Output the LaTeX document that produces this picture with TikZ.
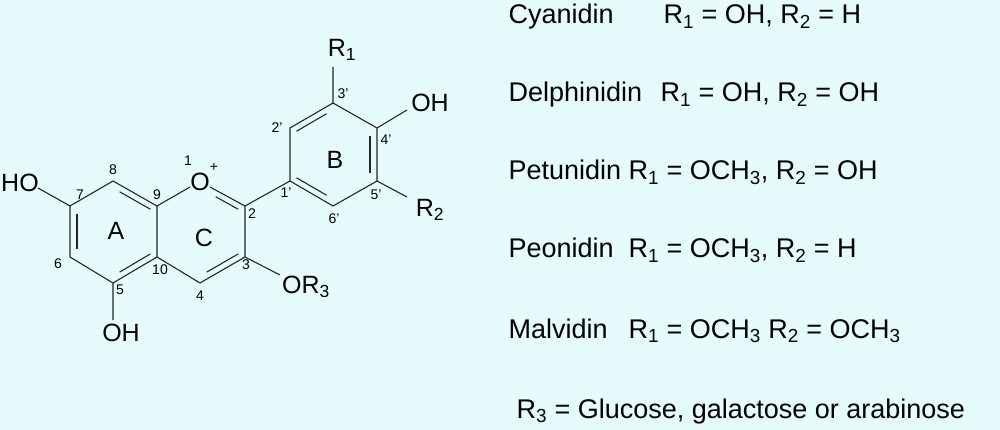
\documentclass[tikz,border=0pt]{standalone}
\usepackage{fontspec}
\setmainfont{Liberation Sans}
\usetikzlibrary{calc}
\begin{document}
\begin{tikzpicture}[x=1pt,y=-1pt,line width=1.1pt,
  bond/.style={draw=black!85},
  lab/.style={inner sep=0pt,font=\fontsize{25}{25}\selectfont},
  num/.style={inner sep=0pt,font=\fontsize{14}{14}\selectfont},
  row/.style={inner sep=0pt,anchor=base west,font=\fontsize{27}{27}\selectfont}]
\fill[fill={rgb,255:red,230;green,251;blue,252}] (0,0) rectangle (1000,430);
\useasboundingbox (0,0) rectangle (1000,430);
% atoms
\coordinate (c8) at (113,181); \coordinate (c9) at (157,206);
\coordinate (o1) at (200,181); \coordinate (c2) at (245,206);
\coordinate (c3) at (245,257); \coordinate (c4) at (200,283);
\coordinate (c10) at (157,257); \coordinate (c5) at (113,283);
\coordinate (c6) at (70,257); \coordinate (c7) at (70,206);
\coordinate (p1) at (290,181); \coordinate (p2) at (290,128);
\coordinate (p3) at (333,103); \coordinate (p4) at (377,128);
\coordinate (p5) at (377,181); \coordinate (p6) at (333,206);
\coordinate (ho7) at (38,188); \coordinate (oh5) at (113,320);
\coordinate (r1e) at (333,67); \coordinate (oh4) at (407,110);
\coordinate (r2e) at (407,197); \coordinate (or3) at (280,275);
% ring A and C
\draw[bond] (c7)--(c8)--(c9)--(c10)--(c5)--(c6)--(c7);
\draw[bond] (c9)--(190,187) (210,187)--(c2)--(c3)--(c4)--(c10);
\draw[bond] ($(c7)!0.15!(c6)+(7,0)$)--($(c7)!0.85!(c6)+(7,0)$);
\draw[bond] ($(c8)!0.15!(c9)+(0,7)$)--($(c8)!0.85!(c9)+(0,7)$);
\draw[bond] ($(c5)!0.15!(c10)+(0,-7)$)--($(c5)!0.85!(c10)+(0,-7)$);
\draw[bond] ($(o1)!0.35!(c2)+(0,7)$)--($(o1)!0.85!(c2)+(0,7)$);
\draw[bond] ($(c3)!0.15!(c4)+(0,-7)$)--($(c3)!0.85!(c4)+(0,-7)$);
% ring B
\draw[bond] (c2)--(p1)--(p2)--(p3)--(p4)--(p5)--(p6)--(p1);
\draw[bond] ($(p2)!0.15!(p3)+(0,7)$)--($(p2)!0.85!(p3)+(0,7)$);
\draw[bond] ($(p4)!0.15!(p5)+(-7,0)$)--($(p4)!0.85!(p5)+(-7,0)$);
\draw[bond] ($(p1)!0.15!(p6)+(0,-7)$)--($(p1)!0.85!(p6)+(0,-7)$);
% substituents
\draw[bond] (c7)--(ho7) (c5)--(oh5) (p3)--(r1e) (p4)--(oh4) (p5)--(r2e) (c3)--(or3);
% atom labels
\node[lab] (tO) at (200,182) {O};
\node[num] at (214,167) {+};
\node[num] at (188,161) {1};
\node[lab] (tHO) at (20,183) {HO};
\node[lab] (tOH5) at (121,333) {OH};
\node[lab] (tR1) at (342,50) {R\textsubscript{1}};
\node[lab] (tOH4) at (430,103) {OH};
\node[lab] (tR2) at (430,210) {R\textsubscript{2}};
\node[lab] (tOR3) at (306,287) {OR\textsubscript{3}};
\node[lab] at (116,231) {A};
\node[lab] at (204,238) {C};
\node[lab] at (335,160) {B};
% numbering
\node[num] at (113,170) {8};
\node[num] at (80,195) {7};
\node[num] at (157,195) {9};
\node[num] at (252,214) {2};
\node[num] at (246,265) {3};
\node[num] at (200,296) {4};
\node[num] at (160,270) {10};
\node[num] at (120,290) {5};
\node[num] at (58,264) {6};
\node[num] at (286,193) {1'};
\node[num] at (277,128) {2'};
\node[num] at (343,94) {3'};
\node[num] at (386,140) {4'};
\node[num] at (376,195) {5'};
\node[num] at (334,219) {6'};
% table
\node[row] (n1) at (508,24) {Cyanidin};
\node[row] (v1) at (663,24) {R\textsubscript{1} = OH, R\textsubscript{2} = H};
\node[row] (n2) at (508,102) {Delphinidin};
\node[row] (v2) at (660,102) {R\textsubscript{1} = OH, R\textsubscript{2} = OH};
\node[row] (n3) at (508,180) {Petunidin};
\node[row] (v3) at (628,180) {R\textsubscript{1} = OCH\textsubscript{3}, R\textsubscript{2} = OH};
\node[row] (n4) at (508,258) {Peonidin};
\node[row] (v4) at (628,258) {R\textsubscript{1} = OCH\textsubscript{3}, R\textsubscript{2} = H};
\node[row] (n5) at (508,338) {Malvidin};
\node[row] (v5) at (628,338) {R\textsubscript{1} = OCH\textsubscript{3} R\textsubscript{2} = OCH\textsubscript{3}};
\node[row] (n6) at (516,418) {R\textsubscript{3} = Glucose, galactose or arabinose};
\end{tikzpicture}
\end{document}
